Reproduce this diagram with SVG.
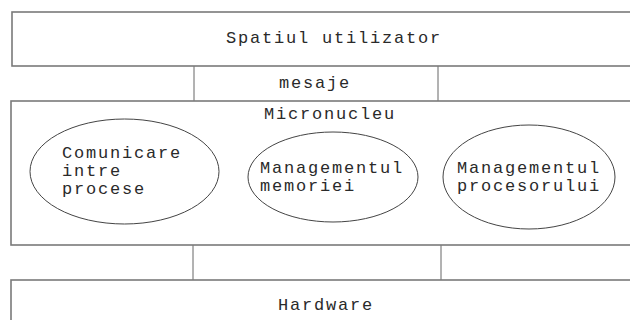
<svg xmlns="http://www.w3.org/2000/svg" width="630" height="320" viewBox="0 0 630 320">
<style>
.box{fill:#fff;stroke:#7a7a7a;stroke-width:1.6}
.ell{fill:#fff;stroke:#444;stroke-width:1}
.ln{stroke:#666;stroke-width:1;fill:none}
text{font-family:"Liberation Mono","Courier New",monospace;font-size:17px;letter-spacing:1.8px;fill:#2a2a2a}
.c{text-anchor:middle}
</style>
<rect width="630" height="320" fill="#fff"/>
<g id="connectors">
<line class="ln" x1="194" y1="66" x2="194" y2="101"/>
<line class="ln" x1="438" y1="66" x2="438" y2="101"/>
<line class="ln" x1="193" y1="245" x2="193" y2="280"/>
<line class="ln" x1="441" y1="245" x2="441" y2="280"/>
<text class="c" x="315" y="88">mesaje</text>
</g>
<g id="spatiul">
<rect class="box" x="12" y="12" width="640" height="54"/>
<text class="c" x="334" y="43">Spatiul utilizator</text>
</g>
<g id="micronucleu">
<rect class="box" x="11" y="101" width="640" height="144"/>
<text class="c" x="330" y="119">Micronucleu</text>
</g>
<g id="comunicare">
<ellipse class="ell" cx="124.5" cy="171.5" rx="94.5" ry="52.5"/>
<text x="62" y="158">Comunicare</text>
<text x="62" y="176">intre</text>
<text x="62" y="194">procese</text>
</g>
<g id="memorie">
<ellipse class="ell" cx="333" cy="177" rx="85" ry="45"/>
<text x="260" y="173">Managementul</text>
<text x="260" y="191">memoriei</text>
</g>
<g id="procesor">
<ellipse class="ell" cx="529" cy="177" rx="86" ry="52"/>
<text x="457" y="173">Managementul</text>
<text x="457" y="191">procesorului</text>
</g>
<g id="hardware">
<rect class="box" x="11" y="280" width="640" height="60"/>
<text class="c" x="326" y="310">Hardware</text>
</g>
</svg>
